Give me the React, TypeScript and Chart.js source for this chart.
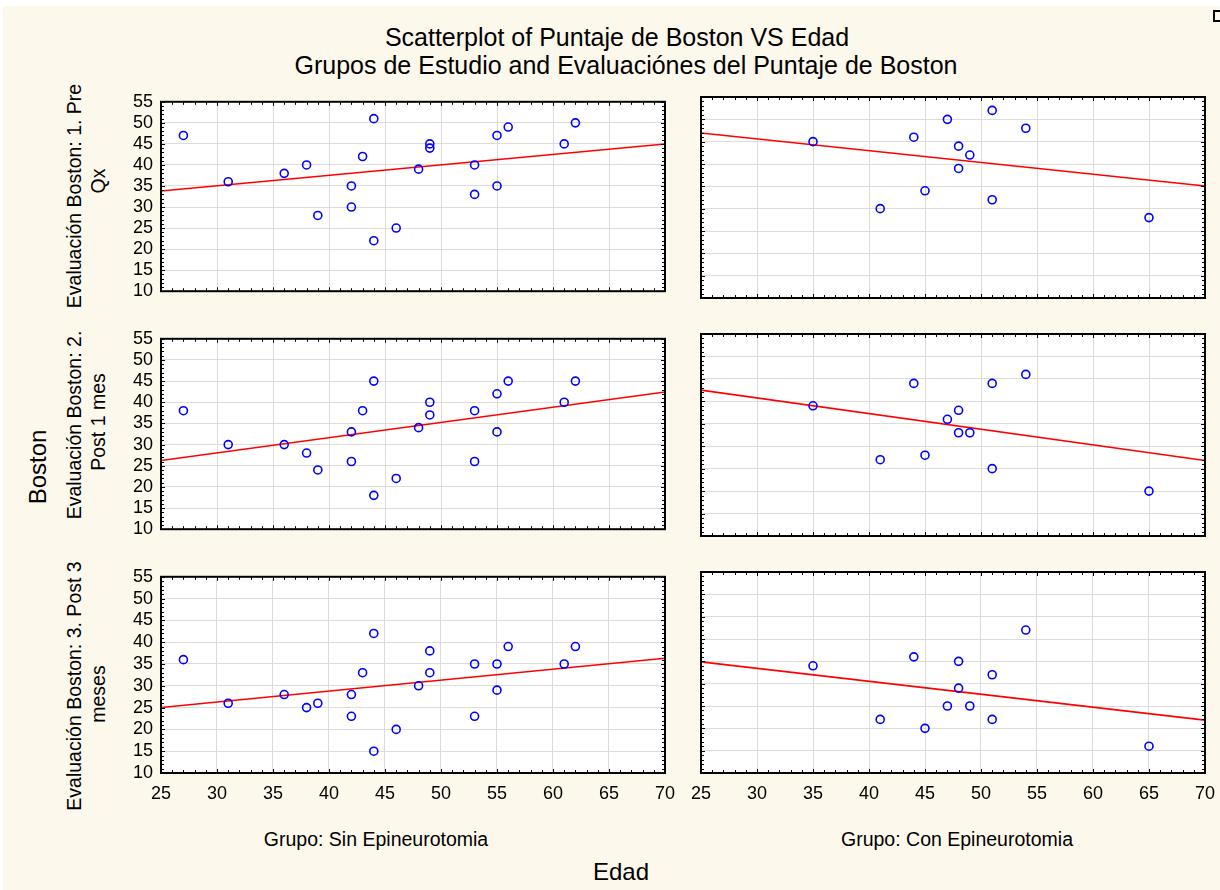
import React, { useEffect, useRef } from "react";
import { Chart, registerables } from "chart.js";
Chart.register(...registerables);

// ---------- data ----------
const xTickValues = [25, 30, 35, 40, 45, 50, 55, 60, 65, 70];
const yTickValues = [10, 15, 20, 25, 30, 35, 40, 45, 50, 55];

const sinAges = [27, 31, 36, 38, 39, 42, 42, 43, 44, 44, 46, 48, 49, 49, 53, 53, 55, 55, 56, 61, 62];
const sinPre = [47, 36, 38, 40, 28, 35, 30, 42, 51, 22, 25, 39, 45, 44, 40, 33, 47, 35, 49, 45, 50];
const sinPost1 = [38, 30, 30, 28, 24, 33, 26, 38, 45, 18, 22, 34, 40, 37, 38, 26, 42, 33, 45, 40, 45];
const sinPost3 = [36, 26, 28, 25, 26, 28, 23, 33, 42, 15, 20, 30, 38, 33, 35, 23, 35, 29, 39, 35, 39];

const conAges = [35, 41, 44, 45, 47, 48, 48, 49, 51, 51, 54, 65];
const conPre = [45, 30, 46, 34, 50, 44, 39, 42, 52, 32, 48, 28];
const conPost1 = [39, 27, 44, 28, 36, 38, 33, 33, 44, 25, 46, 20];
const conPost3 = [34, 22, 36, 20, 25, 35, 29, 25, 32, 22, 42, 16];

const title1 = "Scatterplot of Puntaje de Boston VS Edad";
const title2 = "Grupos de Estudio and Evaluaciónes del Puntaje de Boston";
const rowLabels = [
  ["Evaluación Boston: 1. Pre", "Qx"],
  ["Evaluación Boston: 2.", "Post 1 mes"],
  ["Evaluación Boston: 3. Post 3", "meses"],
];
const colLabels = ["Grupo: Sin Epineurotomia", "Grupo: Con Epineurotomia"];
const xTitle = "Edad";
const yTitle = "Boston";

// ---------- layout ----------
const FONT = 'Arial, "Liberation Sans", sans-serif';
const COLS = [
  { l: 161, r: 665 },
  { l: 701, r: 1205 },
];
const ROWS = [
  { t: 97, b: 298 },
  { t: 334, b: 536 },
  { t: 572, b: 773 },
];
const ROW_LABEL_Y = [
  [196, 181],
  [425, 422],
  [686, 694],
];

function linFit(xs: number[], ys: number[]) {
  const n = xs.length;
  const mx = xs.reduce((a, b) => a + b, 0) / n;
  const my = ys.reduce((a, b) => a + b, 0) / n;
  let sxy = 0, sxx = 0;
  for (let i = 0; i < n; i++) {
    sxy += (xs[i] - mx) * (ys[i] - my);
    sxx += (xs[i] - mx) * (xs[i] - mx);
  }
  const b = sxy / sxx;
  return { a: my - b * mx, b };
}

const framePlugin = {
  id: "frame",
  beforeDraw(chart: any) {
    const { ctx, chartArea: ca } = chart;
    ctx.save();
    ctx.fillStyle = "#ffffff";
    ctx.fillRect(ca.left, ca.top, ca.right - ca.left, ca.bottom - ca.top);
    ctx.restore();
  },
  afterDraw(chart: any) {
    const { ctx, chartArea: ca, scales } = chart;
    const xs = scales.x, ys = scales.y;
    ctx.save();
    ctx.strokeStyle = "#000";
    ctx.lineWidth = 1;
    ctx.beginPath();
    for (let v = 25; v <= 70; v++) {
      const px = Math.round(xs.getPixelForValue(v)) + 0.5;
      const len = v % 5 === 0 ? 4 : 3;
      ctx.moveTo(px, ca.top);
      ctx.lineTo(px, ca.top + len);
      ctx.moveTo(px, ca.bottom);
      ctx.lineTo(px, ca.bottom - len);
    }
    for (let v = 10; v <= 55; v++) {
      const py = Math.round(ys.getPixelForValue(v)) + 0.5;
      const len = v % 5 === 0 ? 4 : 3;
      ctx.moveTo(ca.left, py);
      ctx.lineTo(ca.left + len, py);
      ctx.moveTo(ca.right, py);
      ctx.lineTo(ca.right - len, py);
    }
    ctx.stroke();
    ctx.lineWidth = 2;
    ctx.strokeRect(ca.left, ca.top, ca.right - ca.left, ca.bottom - ca.top);
    ctx.restore();
  },
};

function Panel({ ages, scores, col, row, showX, showY }: any) {
  const ref = useRef<HTMLCanvasElement>(null);
  const c = COLS[col], r = ROWS[row];
  const W = showY ? 70 : 20;
  const PT = 14, PR = 20;
  const H = showX ? 36 : 12;
  const width = c.r - c.l + W + PR;
  const height = r.b - r.t + PT + H;
  useEffect(() => {
    const fit = linFit(ages, scores);
    const chart = new Chart(ref.current as HTMLCanvasElement, {
      type: "scatter",
      data: {
        datasets: [
          {
            type: "line",
            data: [
              { x: 25, y: fit.a + fit.b * 25 },
              { x: 70, y: fit.a + fit.b * 70 },
            ],
            borderColor: "#ff0000",
            borderWidth: 1.6,
            pointRadius: 0,
            fill: false,
            order: 2,
          } as any,
          {
            data: ages.map((a: number, i: number) => ({ x: a, y: scores[i] })),
            pointRadius: 4,
            pointBorderColor: "#0000ff",
            pointBackgroundColor: "rgba(0,0,0,0)",
            pointBorderWidth: 1.6,
            order: 1,
          },
        ],
      },
      options: {
        responsive: false,
        animation: false,
        devicePixelRatio: 1,
        layout: { padding: { top: PT, right: PR, left: 0, bottom: 0 } },
        plugins: { legend: { display: false }, tooltip: { enabled: false } },
        scales: {
          x: {
            type: "linear",
            min: 25,
            max: 70,
            afterBuildTicks: (s: any) => {
              s.ticks = xTickValues.map((v) => ({ value: v }));
            },
            afterFit: (s: any) => {
              s.height = H;
            },
            grid: { color: "#dcdcdc", lineWidth: 1, drawTicks: false },
            border: { display: false },
            ticks: {
              display: showX,
              autoSkip: false,
              maxRotation: 0,
              padding: 10,
              color: "#000",
              font: { family: FONT, size: 18 },
            },
          },
          y: {
            type: "linear",
            min: 10,
            max: 55,
            afterBuildTicks: (s: any) => {
              s.ticks = yTickValues.map((v) => ({ value: v }));
            },
            afterFit: (s: any) => {
              s.width = W;
            },
            grid: { color: "#dcdcdc", lineWidth: 1, drawTicks: false },
            border: { display: false },
            ticks: {
              display: showY,
              autoSkip: false,
              padding: 8,
              color: "#000",
              font: { family: FONT, size: 18 },
            },
          },
        },
      },
      plugins: [framePlugin],
    });
    return () => chart.destroy();
  }, []);
  return (
    <canvas
      ref={ref}
      width={width}
      height={height}
      style={{ position: "absolute", left: c.l - W, top: r.t - PT, width, height }}
    />
  );
}

function Label({ x, y, size, text, rotate }: any) {
  return (
    <div
      style={{
        position: "absolute",
        left: x,
        top: y,
        fontSize: size,
        lineHeight: 1,
        whiteSpace: "nowrap",
        color: "#000",
        transform: `translate(-50%,-50%)${rotate ? " rotate(-90deg)" : ""}`,
      }}
    >
      {text}
    </div>
  );
}

export default function App() {
  const rowsData = [
    [sinPre, conPre],
    [sinPost1, conPost1],
    [sinPost3, conPost3],
  ];
  const agesByCol = [sinAges, conAges];
  return (
    <div
      style={{
        position: "fixed",
        left: 0,
        top: 0,
        width: 1220,
        height: 890,
        background: "#ffffff",
        fontFamily: FONT,
        overflow: "hidden",
      }}
    >
      <div style={{ position: "absolute", left: 3, top: 6, right: 0, bottom: 0, background: "#fdf8ec" }} />
      <div
        style={{
          position: "absolute",
          left: 1213,
          top: 10,
          width: 10,
          height: 8,
          border: "2px solid #000",
        }}
      />
      <Label x={617} y={37} size={25} text={title1} />
      <Label x={626} y={65} size={25} text={title2} />
      {ROWS.map((r, ri) => (
        <React.Fragment key={"r" + ri}>
          <Label x={75} y={ROW_LABEL_Y[ri][0]} size={19.5} text={rowLabels[ri][0]} rotate />
          <Label x={99} y={ROW_LABEL_Y[ri][1]} size={19.5} text={rowLabels[ri][1]} rotate />
          {COLS.map((c, ci) => (
            <Panel
              key={ri + "-" + ci}
              ages={agesByCol[ci]}
              scores={rowsData[ri][ci]}
              col={ci}
              row={ri}
              showX={ri === 2}
              showY={ci === 0}
            />
          ))}
        </React.Fragment>
      ))}
      <Label x={38} y={467} size={24} text={yTitle} rotate />
      <Label x={376} y={840} size={19.5} text={colLabels[0]} />
      <Label x={957} y={840} size={19.5} text={colLabels[1]} />
      <Label x={621} y={872} size={24} text={xTitle} />
    </div>
  );
}
